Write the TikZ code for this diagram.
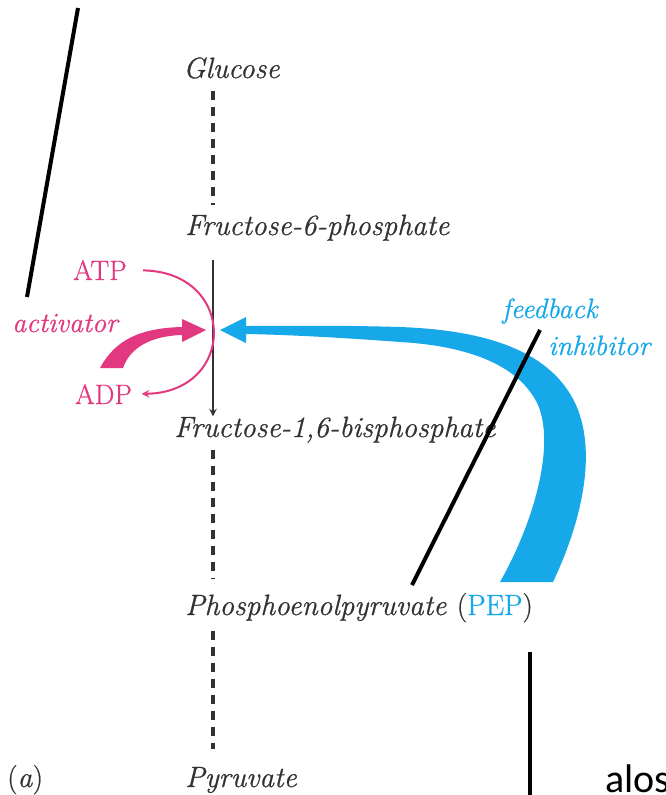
\documentclass[tikz,border=0pt]{standalone}
\usepackage{tikz}
\usetikzlibrary{arrows}
\usepackage[usenames,dvipsnames]{xcolor}
\usepackage{fontspec}
\newfontfamily\notefont{Carlito}
\newfontfamily\bookfont{Latin Modern Roman}[FakeBold=0.7]

\definecolor{metgray}{RGB}{50,50,50}
\definecolor{actpink}{RGB}{226,56,128}
\definecolor{inhblue}{RGB}{22,168,232}

\begin{document}
\begin{tikzpicture}[x=0.75pt,y=-0.75pt]
    \tikzset{metab/.style = {anchor=base west, inner sep=0pt, text=metgray, font=\bookfont\fontsize{22}{26}\selectfont\itshape}}
    \tikzset{effector/.style = {anchor=base west, inner sep=0pt, font=\bookfont\fontsize{21}{25}\selectfont}}
    \tikzset{dashstep/.style = {draw=metgray, line width=2.3pt, dash pattern=on 7pt off 5pt}}
    \tikzset{pointer/.style = {draw=black, line width=3pt}}

    \useasboundingbox (0,0) rectangle (665,795);

    % metabolites
    \node[metab] (glc) at (183,78) {Glucose};
    \node[metab] (f6p) at (185,235) {Fructose-6-phosphate};
    \node[metab] (fbp) at (174,437) {Fructose-1,6-bisphosphate};
    \node[metab] (pep) at (185,615) {Phosphoenolpyruvate \textup{(\textcolor{inhblue}{PEP})}};
    \node[metab] (pyr) at (185,787) {Pyruvate};
    \node[metab] (lbl) at (7,787) {\textup{(}a\textup{)}};

    % effectors
    \node[effector, text=actpink] (atp) at (73,280) {ATP};
    \node[effector, text=actpink] (adp) at (75,404) {ADP};
    \node[effector, text=actpink, font=\bookfont\fontsize{21}{25}\selectfont\itshape] (act) at (12,332) {activator};
    \node[effector, text=inhblue, font=\bookfont\fontsize{21}{25}\selectfont\itshape] (fb) at (502,318) {feedback};
    \node[effector, text=inhblue, font=\bookfont\fontsize{21}{25}\selectfont\itshape] (inh) at (548,355) {inhibitor};

    \coordinate (axis) at (213,0);

    % pathway steps
    \draw[dashstep, shorten <=9pt, shorten >=7pt] (glc.south -| axis) -- (f6p.north -| axis);
    \draw[metgray, line width=1.5pt, -stealth, shorten <=14pt] (f6p.south -| axis) -- (fbp.north -| axis);
    \draw[dashstep, shorten <=5pt, shorten >=11pt] (fbp.south -| axis) -- (pep.north -| axis);
    \draw[dashstep, shorten <=6pt, shorten >=13pt] (pep.south -| axis) -- (pyr.north -| axis);

    % ATP -> ADP
    \draw[actpink, line width=1.5pt, -stealth, shorten <=12pt, shorten >=7pt]
        (atp.east) .. controls (237,272) and (237,392) .. (adp.east);

    % activator arrow
    \fill[actpink] (100,368) .. controls (115,340) and (140,328) .. (182,327)
        -- (182,319) -- (206,330) -- (182,342) -- (182,335)
        .. controls (150,336) and (130,348) .. (123,368) -- cycle;

    % feedback arrow from PEP
    \fill[inhblue] (553,582) .. controls (580,525) and (598,455) .. (576,405)
        .. controls (550,348) and (480,330) .. (400,327)
        .. controls (330,325) and (280,326) .. (246,326)
        -- (246,317) -- (220,330) -- (246,343) -- (246,334)
        .. controls (300,335) and (360,339) .. (400,342)
        .. controls (470,346) and (520,366) .. (538,405)
        .. controls (555,445) and (535,520) .. (500,582) -- cycle;

    % pointer lines
    \coordinate (p1a) at (78,8);
    \coordinate (p1b) at (27,297);
    \coordinate (p2a) at (540,330);
    \coordinate (p2b) at (412,585);
    \coordinate (p3a) at (530,652);
    \coordinate (p3b) at (530,795);
    \draw[pointer] (p1a) -- (p1b);
    \draw[pointer] (p2a) -- (p2b);
    \draw[pointer] (p3a) -- (p3b);

    \node[anchor=base west, inner sep=0pt, font=\notefont\fontsize{30}{36}\selectfont] (note) at (605,792) {alos};
\end{tikzpicture}
\end{document}
